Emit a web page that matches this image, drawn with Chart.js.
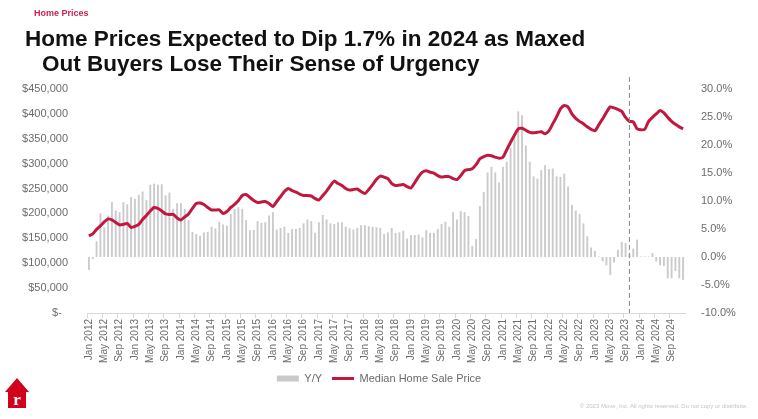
<!DOCTYPE html>
<html>
<head>
<meta charset="utf-8">
<script src="https://cdn.jsdelivr.net/npm/chart.js@4.4.0/dist/chart.umd.min.js"></script>
<style>
  body { margin: 0; background: #fff; font-family: "Liberation Sans", Arial, sans-serif; }
  #wrap { position: relative; width: 758px; height: 419px; overflow: hidden; }
  #c { position: absolute; left: 0; top: 0; }
  .kicker { position: absolute; left: 34px; top: 8px; font-size: 9px; font-weight: bold; color: #c8234f; }
  .title { position: absolute; font-size: 22.5px; font-weight: bold; color: #111; white-space: nowrap; }
  .copy { position: absolute; right: 10px; top: 403px; font-size: 6px; color: #c4c4c4; }
  .logo { position: absolute; left: 5px; top: 378px; }
</style>
</head>
<body>
<div id="wrap">
  <canvas id="c" width="758" height="419"></canvas>
  <div class="kicker">Home Prices</div>
  <div class="title" style="left:25px; top:26px;">Home Prices Expected to Dip 1.7% in 2024 as Maxed</div>
  <div class="title" style="left:42px; top:51px;">Out Buyers Lose Their Sense of Urgency</div>
  <svg class="logo" width="24" height="31" viewBox="0 0 24 31">
    <polygon points="12,0 24,14 21,14 21,30 3,30 3,14 0,14" fill="#d0021b"/>
    <text x="12" y="27" text-anchor="middle" font-family="Liberation Serif, serif" font-weight="bold" font-size="17" fill="#fff">r</text>
  </svg>
  <div class="copy">© 2023 Move, Inc. All rights reserved. Do not copy or distribute.</div>
</div>
<script>
// maanden en jaren voor de categorie-as
const years = [2012, 2013, 2014, 2015, 2016, 2017, 2018, 2019, 2020, 2021, 2022, 2023, 2024];
const monthNames = ["Jan", "Feb", "Mar", "Apr", "May", "Jun", "Jul", "Aug", "Sep", "Oct", "Nov", "Dec"];

// Y/Y verandering in procent, per maand (Jan 2012 - Dec 2024)
const yoy = [
  -2.3, -0.4, 2.8, 7.8, 5.3, 7.4, 9.8, 8.3, 8.0, 9.8, 9.4, 10.7,
  10.4, 11.1, 11.7, 10.2, 12.9, 13.1, 12.9, 13.0, 11.0, 11.5, 8.6, 9.6,
  9.6, 8.6, 6.6, 4.5, 4.1, 3.8, 4.4, 4.5, 5.4, 5.1, 6.3, 5.8,
  5.6, 7.7, 8.6, 8.9, 8.6, 6.6, 4.8, 4.8, 6.4, 6.1, 6.2, 7.4,
  8.0, 4.9, 5.2, 5.4, 4.3, 5.0, 5.0, 5.2, 6.0, 6.7, 6.4, 4.3,
  6.2, 7.5, 6.7, 6.0, 5.9, 6.2, 6.2, 5.4, 5.1, 4.9, 5.2, 5.7,
  5.7, 5.5, 5.4, 5.3, 5.2, 4.1, 4.4, 5.2, 4.3, 4.4, 4.7, 3.3,
  3.9, 3.9, 4.0, 3.5, 4.8, 4.3, 4.3, 5.0, 5.9, 6.3, 5.4, 8.0,
  6.7, 8.2, 8.0, 7.3, 2.0, 3.2, 9.1, 11.6, 15.1, 16.1, 15.1, 13.3,
  16.1, 17.0, 19.5, 21.4, 26.0, 25.3, 19.9, 17.0, 14.4, 14.0, 15.5, 16.4,
  15.7, 15.8, 14.4, 14.3, 14.9, 12.6, 9.3, 8.3, 7.7, 6.0, 3.7, 1.7,
  1.1, 0.1, -0.8, -1.5, -3.2, -1.0, 1.3, 2.7, 2.5, 0.5, 1.5, 3.1,
  0.1, 0.1, 0.1, 0.7, -0.8, -1.5, -1.6, -3.8, -3.8, -2.5, -3.8, -4.1
];

// mediaan verkoopprijs in dollars (x1000)
const medianPrice = [
  155, 159, 168, 175, 183, 189, 187, 182, 177, 178, 180, 172,
  174, 178, 188, 196, 205, 212, 210, 205, 199, 198, 198, 191,
  187, 193, 199, 210, 220, 221, 218, 212, 207, 207, 207, 200,
  204, 212, 218, 226, 236, 238, 232, 226, 222, 223, 224, 220,
  214, 224, 234, 244, 250, 246, 243, 239, 236, 236, 235, 230,
  227, 236, 245, 256, 265, 260, 256, 250, 247, 248, 249, 244,
  240, 248, 258, 268, 275, 273, 270, 260, 256, 257, 258, 254,
  251, 262, 274, 283, 286, 283, 281, 276, 273, 274, 274, 270,
  268, 276, 286, 288, 290, 298, 310, 314, 317, 316, 313, 311,
  313, 328, 343, 357, 370, 371, 367, 363, 362, 363, 364, 360,
  366, 380, 394, 410, 417, 414, 400, 391, 385, 380, 374, 369,
  366, 378, 390, 403, 414, 412, 409, 405, 393, 385, 384, 370,
  368, 369, 385, 393, 400, 407, 402, 393, 385, 379, 374, 370
];

const forecastStart = "Oct 2023";

let labels = [];
for (let y of years) {
  for (let m of monthNames) {
    labels.push(m + " " + y);
  }
}
let priceData = medianPrice.map(v => v * 1000);

// gestippelde lijn voor de prognose
const dashLine = {
  id: "dashLine",
  afterDatasetsDraw(chart) {
    const x = chart.scales.x.getPixelForValue(labels.indexOf(forecastStart));
    const ctx = chart.ctx;
    ctx.save();
    ctx.strokeStyle = "#8c8c8c";
    ctx.lineWidth = 1;
    ctx.setLineDash([5, 3]);
    ctx.beginPath();
    ctx.moveTo(x, chart.chartArea.top - 12);
    ctx.lineTo(x, chart.chartArea.bottom);
    ctx.stroke();
    ctx.restore();
  }
};

const tickFont = { family: "Liberation Sans", size: 11 };
const grey = "#6b6b6b";

let ctx = document.getElementById("c").getContext("2d");
let myChart = new Chart(ctx, {
  type: "bar",
  data: {
    labels: labels,
    datasets: [
      {
        type: "line",
        label: "Median Home Sale Price",
        data: priceData,
        yAxisID: "y",
        borderColor: "#c2173f",
        backgroundColor: "#c2173f",
        borderWidth: 3,
        pointRadius: 0,
        tension: 0.2,
        order: 1
      },
      {
        label: "Y/Y",
        data: yoy,
        yAxisID: "y2",
        backgroundColor: "#cbcbcb",
        categoryPercentage: 1,
        barPercentage: 0.5,
        order: 2
      }
    ]
  },
  options: {
    responsive: false,
    animation: false,
    layout: { padding: { top: 89, left: 0, right: 0, bottom: 25 } },
    plugins: {
      tooltip: { enabled: false },
      legend: {
        position: "bottom",
        labels: {
          color: grey,
          font: tickFont,
          usePointStyle: true,
          pointStyleWidth: 22,
          padding: 10,
          generateLabels: chart => [
            { text: "Y/Y", pointStyle: "line", strokeStyle: "#c9c9c9", fillStyle: "#c9c9c9", lineWidth: 6, fontColor: grey, datasetIndex: 1 },
            { text: "Median Home Sale Price", pointStyle: "line", strokeStyle: "#c2173f", fillStyle: "#c2173f", lineWidth: 3, fontColor: grey, datasetIndex: 0 }
          ]
        }
      }
    },
    scales: {
      x: {
        afterFit: s => { s.height = 50; },
        grid: {
          drawOnChartArea: false,
          tickLength: 5,
          color: c => (c.index % 4 === 0 ? "#d9d9d9" : "rgba(0,0,0,0)")
        },
        border: { color: "#d9d9d9" },
        ticks: {
          autoSkip: false,
          maxRotation: 90,
          minRotation: 90,
          color: grey,
          font: { family: "Liberation Sans", size: 10 },
          padding: 1,
          callback: (v, i) => (i % 4 === 0 ? labels[i] : "")
        }
      },
      y: {
        position: "left",
        min: 0,
        max: 450000,
        afterFit: s => { s.width = 87; },
        grid: { display: false },
        border: { display: false },
        ticks: {
          stepSize: 50000,
          color: grey,
          font: tickFont,
          padding: 11,
          callback: v => (v === 0 ? "$-  " : "$" + v.toLocaleString("en-US"))
        }
      },
      y2: {
        position: "right",
        min: -10,
        max: 30,
        afterFit: s => { s.width = 73; },
        grid: { display: false },
        border: { display: false },
        ticks: {
          stepSize: 5,
          color: grey,
          font: tickFont,
          padding: 8,
          callback: v => v.toFixed(1) + "%"
        }
      }
    }
  },
  plugins: [dashLine]
});
</script>
</body>
</html>
